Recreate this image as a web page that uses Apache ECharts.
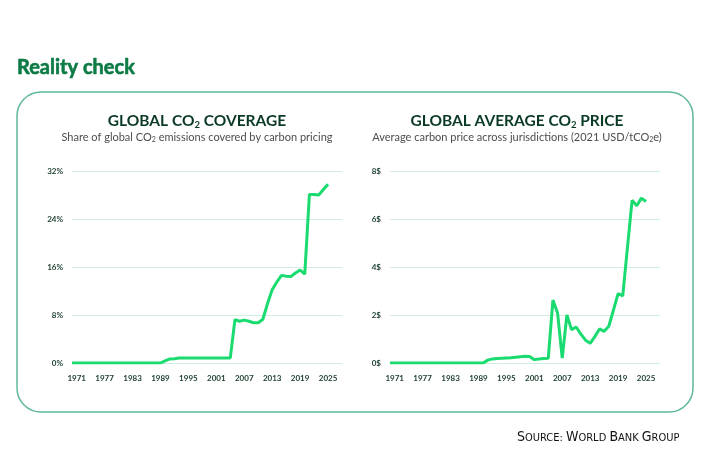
<!DOCTYPE html>
<html>
<head>
<meta charset="utf-8">
<script src="https://cdn.jsdelivr.net/npm/echarts@6/dist/echarts.min.js"></script>
<style>
    html, body {margin:0; padding:0; background:#fff;}
    #chart {width:708px; height:472px;}
</style>
</head>
<body>
<div id="chart"></div>
<script>
var years = [1970, 1971, 1972, 1973, 1974, 1975, 1976, 1977, 1978, 1979,
    1980, 1981, 1982, 1983, 1984, 1985, 1986, 1987, 1988, 1989,
    1990, 1991, 1992, 1993, 1994, 1995, 1996, 1997, 1998, 1999,
    2000, 2001, 2002, 2003, 2004, 2005, 2006, 2007, 2008, 2009,
    2010, 2011, 2012, 2013, 2014, 2015, 2016, 2017, 2018, 2019,
    2020, 2021, 2022, 2023, 2024, 2025];

// share of global emissions covered, %
var coverage = [0, 0, 0, 0, 0, 0, 0, 0, 0, 0,
    0, 0, 0, 0, 0, 0, 0, 0, 0, 0,
    0.35, 0.67, 0.7, 0.83, 0.85, 0.85, 0.85, 0.85, 0.85, 0.85,
    0.85, 0.85, 0.85, 0.85, 0.85, 7.2, 6.95, 7.15, 6.95, 6.7,
    6.7, 7.3, 9.9, 12.2, 13.5, 14.6, 14.45, 14.4, 15.0, 15.5,
    14.8, 28.1, 28.1, 28.0, 28.9, 29.8];

// average price
var price = [0, 0, 0, 0, 0, 0, 0, 0, 0, 0,
    0, 0, 0, 0, 0, 0, 0, 0, 0, 0,
    0, 0.12, 0.17, 0.19, 0.2, 0.21, 0.22, 0.24, 0.26, 0.28,
    0.27, 0.14, 0.17, 0.19, 0.2, 2.62, 2.08, 0.2, 2.0, 1.39,
    1.5, 1.2, 0.95, 0.82, 1.1, 1.42, 1.32, 1.53, 2.2, 2.89,
    2.8, 4.8, 6.78, 6.55, 6.87, 6.73];

var yearLabels = [1971, 1977, 1983, 1989, 1995, 2001, 2007, 2013, 2019, 2025];

var FONT = 'Lato, "Noto Sans", sans-serif';
var LINE = '#19db6f';
var GRID_LINE = '#cdeee0';
var LABEL = '#1b3d2c';

function pairs(values){
    return years.map(function(y, i){ return [y, values[i]]; });
}

function xAxis(idx){
    return {
        type: 'value',
        gridIndex: idx,
        min: 1970,
        max: 2028,
        axisLine: {show: false},
        axisTick: {show: false},
        splitLine: {show: false},
        axisLabel: {
            customValues: yearLabels,
            formatter: function(v){ return String(v); },
            margin: 11,
            fontFamily: FONT,
            fontSize: 8,
            fontWeight: 'bold',
            color: LABEL
        }
    };
}

function yAxis(idx, max, interval, unit){
    return {
        type: 'value',
        gridIndex: idx,
        min: 0,
        max: max,
        interval: interval,
        axisLine: {show: false},
        axisTick: {show: false},
        splitLine: {lineStyle: {color: GRID_LINE, width: 1}},
        axisLabel: {
            formatter: '{value}' + unit,
            margin: 9,
            fontFamily: FONT,
            fontSize: 8,
            fontWeight: 'bold',
            color: LABEL
        }
    };
}

function heading(x, y, before, after){
    return {
        type: 'text',
        x: x,
        y: y,
        style: {
            text: before + '{sub|2}' + after,
            align: 'center',
            verticalAlign: 'middle',
            font: 'bold 15.5px ' + FONT,
            fill: '#0b3a24',
            lineHeight: 18,
            rich: {
                sub: {
                    font: 'bold 9.5px ' + FONT,
                    fill: '#0b3a24',
                    verticalAlign: 'bottom',
                    lineHeight: 14
                }
            }
        }
    };
}

function subheading(x, y, before, after){
    return {
        type: 'text',
        x: x,
        y: y,
        style: {
            text: before + '{sub|2}' + after,
            align: 'center',
            verticalAlign: 'middle',
            font: '11px ' + FONT,
            fill: '#4d4d4d',
            lineHeight: 13,
            rich: {
                sub: {
                    font: '7px ' + FONT,
                    fill: '#4d4d4d',
                    verticalAlign: 'bottom',
                    lineHeight: 10
                }
            }
        }
    };
}

var chart = echarts.init(document.getElementById('chart'));
chart.setOption({
    animation: false,
    backgroundColor: '#ffffff',
    grid: [
        {left: 72, top: 171, width: 270, height: 192},
        {left: 390, top: 171, width: 270, height: 192}
    ],
    xAxis: [xAxis(0), xAxis(1)],
    yAxis: [yAxis(0, 32, 8, '%'), yAxis(1, 8, 2, '$')],
    series: [
        {
            type: 'line',
            xAxisIndex: 0,
            yAxisIndex: 0,
            data: pairs(coverage),
            showSymbol: false,
            lineStyle: {color: LINE, width: 3},
            silent: true
        },
        {
            type: 'line',
            xAxisIndex: 1,
            yAxisIndex: 1,
            data: pairs(price),
            showSymbol: false,
            lineStyle: {color: LINE, width: 3},
            silent: true
        }
    ],
    graphic: [
        {
            type: 'text',
            x: 17,
            y: 68,
            style: {
                text: 'Reality check',
                font: 'bold 20px ' + FONT,
                fill: '#0d7b46',
                stroke: '#0d7b46',
                lineWidth: 0.6,
                verticalAlign: 'middle'
            }
        },
        {
            type: 'rect',
            shape: {x: 17, y: 92, width: 676, height: 320, r: 24},
            style: {fill: 'none', stroke: '#5fb99a', lineWidth: 1.5}
        },
        heading(197, 121, 'GLOBAL CO', ' COVERAGE'),
        subheading(197, 137, 'Share of global CO', ' emissions covered by carbon pricing'),
        heading(517, 121, 'GLOBAL AVERAGE CO', ' PRICE'),
        subheading(517, 137, 'Average carbon price across jurisdictions (2021 USD/tCO', 'e)'),
        {
            type: 'text',
            x: 517,
            y: 436,
            style: {
                text: '{a|S}{b|OURCE: }{a|W}{b|ORLD }{a|B}{b|ANK }{a|G}{b|ROUP}',
                verticalAlign: 'middle',
                rich: {
                    a: {font: '14px "DejaVu Sans Condensed", sans-serif', fill: '#111', verticalAlign: 'bottom', lineHeight: 16},
                    b: {font: '11px "DejaVu Sans Condensed", sans-serif', fill: '#111', verticalAlign: 'bottom', lineHeight: 16}
                }
            }
        }
    ]
});
</script>
</body>
</html>
